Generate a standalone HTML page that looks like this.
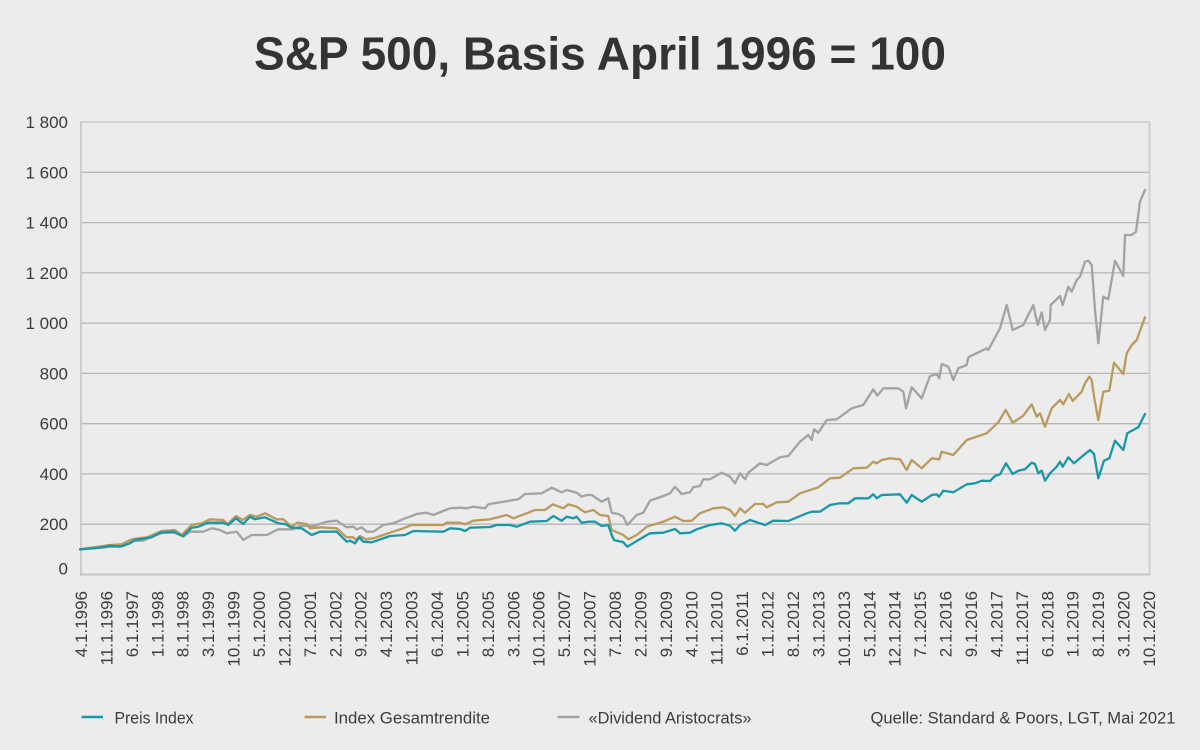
<!DOCTYPE html>
<html>
<head>
<meta charset="utf-8">
<style>
  html,body{margin:0;padding:0;background:#ececec;}
  svg{display:block;}
  text{font-family:"Liberation Sans",Arial,sans-serif;}
</style>
</head>
<body>
<svg width="1200" height="750" viewBox="0 0 1200 750" xmlns="http://www.w3.org/2000/svg">
  <rect x="0" y="0" width="1200" height="750" fill="#ececec"/>
  <!-- Title -->
  <text x="254" y="69.5" font-size="46" font-weight="bold" fill="#333333" textLength="692" lengthAdjust="spacingAndGlyphs">S&amp;P 500, Basis April 1996 = 100</text>

  <!-- gridlines -->
  <g stroke="#b6b6b6" stroke-width="1.3">
    <line x1="81" y1="524.2" x2="1149" y2="524.2"/>
    <line x1="81" y1="473.9" x2="1149" y2="473.9"/>
    <line x1="81" y1="423.7" x2="1149" y2="423.7"/>
    <line x1="81" y1="373.4" x2="1149" y2="373.4"/>
    <line x1="81" y1="323.1" x2="1149" y2="323.1"/>
    <line x1="81" y1="272.9" x2="1149" y2="272.9"/>
    <line x1="81" y1="222.6" x2="1149" y2="222.6"/>
    <line x1="81" y1="172.3" x2="1149" y2="172.3"/>
  </g>
  <!-- frame -->
  <line x1="81" y1="122" x2="1150" y2="122" stroke="#c8c8c8" stroke-width="1.6"/>
  <line x1="1149.5" y1="122" x2="1149.5" y2="575" stroke="#cfcfcf" stroke-width="2"/>
  <line x1="81" y1="121" x2="81" y2="576" stroke="#cccccc" stroke-width="2"/>
  <line x1="80" y1="574.5" x2="1150" y2="574.5" stroke="#c6c6c6" stroke-width="2"/>

  <!-- y labels -->
  <g font-size="17" fill="#3c3c3c" text-anchor="end">
    <text x="68" y="128">1 800</text>
    <text x="68" y="178.3">1 600</text>
    <text x="68" y="228.6">1 400</text>
    <text x="68" y="278.9">1 200</text>
    <text x="68" y="329.1">1 000</text>
    <text x="68" y="379.4">800</text>
    <text x="68" y="429.7">600</text>
    <text x="68" y="479.9">400</text>
    <text x="68" y="530.2">200</text>
    <text x="68" y="574.3">0</text>
  </g>

  <!-- x labels -->
  <g font-size="17" fill="#3c3c3c" text-anchor="end">
    <text transform="translate(87.0,591) rotate(-90)">4.1.1996</text>
    <text transform="translate(112.4,591) rotate(-90)">11.1.1996</text>
    <text transform="translate(137.9,591) rotate(-90)">6.1.1997</text>
    <text transform="translate(163.3,591) rotate(-90)">1.1.1998</text>
    <text transform="translate(188.7,591) rotate(-90)">8.1.1998</text>
    <text transform="translate(214.1,591) rotate(-90)">3.1.1999</text>
    <text transform="translate(239.6,591) rotate(-90)">10.1.1999</text>
    <text transform="translate(265.0,591) rotate(-90)">5.1.2000</text>
    <text transform="translate(290.4,591) rotate(-90)">12.1.2000</text>
    <text transform="translate(315.9,591) rotate(-90)">7.1.2001</text>
    <text transform="translate(341.3,591) rotate(-90)">2.1.2002</text>
    <text transform="translate(366.7,591) rotate(-90)">9.1.2002</text>
    <text transform="translate(392.1,591) rotate(-90)">4.1.2003</text>
    <text transform="translate(417.6,591) rotate(-90)">11.1.2003</text>
    <text transform="translate(443.0,591) rotate(-90)">6.1.2004</text>
    <text transform="translate(468.4,591) rotate(-90)">1.1.2005</text>
    <text transform="translate(493.9,591) rotate(-90)">8.1.2005</text>
    <text transform="translate(519.3,591) rotate(-90)">3.1.2006</text>
    <text transform="translate(544.7,591) rotate(-90)">10.1.2006</text>
    <text transform="translate(570.1,591) rotate(-90)">5.1.2007</text>
    <text transform="translate(595.6,591) rotate(-90)">12.1.2007</text>
    <text transform="translate(621.0,591) rotate(-90)">7.1.2008</text>
    <text transform="translate(646.4,591) rotate(-90)">2.1.2009</text>
    <text transform="translate(671.9,591) rotate(-90)">9.1.2009</text>
    <text transform="translate(697.3,591) rotate(-90)">4.1.2010</text>
    <text transform="translate(722.7,591) rotate(-90)">11.1.2010</text>
    <text transform="translate(748.1,591) rotate(-90)">6.1.2011</text>
    <text transform="translate(773.6,591) rotate(-90)">1.1.2012</text>
    <text transform="translate(799.0,591) rotate(-90)">8.1.2012</text>
    <text transform="translate(824.4,591) rotate(-90)">3.1.2013</text>
    <text transform="translate(849.9,591) rotate(-90)">10.1.2013</text>
    <text transform="translate(875.3,591) rotate(-90)">5.1.2014</text>
    <text transform="translate(900.7,591) rotate(-90)">12.1.2014</text>
    <text transform="translate(926.1,591) rotate(-90)">7.1.2015</text>
    <text transform="translate(951.6,591) rotate(-90)">2.1.2016</text>
    <text transform="translate(977.0,591) rotate(-90)">9.1.2016</text>
    <text transform="translate(1002.4,591) rotate(-90)">4.1.2017</text>
    <text transform="translate(1027.9,591) rotate(-90)">11.1.2017</text>
    <text transform="translate(1053.3,591) rotate(-90)">6.1.2018</text>
    <text transform="translate(1078.7,591) rotate(-90)">1.1.2019</text>
    <text transform="translate(1104.1,591) rotate(-90)">8.1.2019</text>
    <text transform="translate(1129.6,591) rotate(-90)">3.1.2020</text>
    <text transform="translate(1155.0,591) rotate(-90)">10.1.2020</text>
  </g>

  <!-- Series -->
  <g fill="none" stroke-width="2.3" stroke-linejoin="round" stroke-linecap="round">
    <!-- Dividend Aristocrats (gray) -->
    <polyline stroke="#a3a3a3" points="80,549.3 100,547.7 113.3,546.7 123.3,546 133.3,540.7 143.3,540.7 153.3,536 163.3,532.7 176.7,532.7 183.3,536.7 190,531.7 203.3,531.7 211.7,528.3 220,530 226.7,533.3 236.7,531.7 243.3,540 251.7,535 266.7,535 278.3,529.3 293.3,529.3 300,526 313.3,526 326.7,521.7 336.7,520.7 346.7,527.3 353.3,526.7 356.7,529.3 361.7,527.3 366.7,531.7 373.3,531.7 383.3,525 393.3,523.3 405,518.3 410,516.7 416.7,514 426.7,512.7 433.3,515 450,508.3 460,507.7 466.7,508.3 473.3,506.7 485,508.3 488.3,504.3 503.3,501.7 518.3,499.3 525,494 541.7,493.3 551.7,487.7 561.7,492.3 566.7,490 576.7,492.7 581.7,496.7 586.7,495 591.7,495 601.7,501.7 608.3,498.3 611.7,512.7 618.3,514 623.3,516.7 627.3,525 636.7,515 643.3,512.7 650,500.7 663.3,496 670,493.3 675,486.7 681.7,494 690,492.3 693.3,487.3 700,486 703.3,479.3 710,479.3 721.7,472.7 730,476.7 735,483.3 740,473.3 745,479.3 748.3,472.7 760,463.3 766.7,465 780,457.3 788.3,456 800,441.7 808.3,435 811.7,440 814,429.3 818.3,432.7 826.7,420 836.7,419.3 851.7,408.3 863.3,405 873.3,389.3 877.3,395.7 883.3,388.3 898.3,388.3 903.3,391.7 906,408.3 911.7,387.3 921.7,398.3 930,376 936.7,374 939.3,378.3 941.7,364 948.3,366.7 953.3,380 958.3,368.3 966.7,365 968.3,357.3 986.7,348.3 988.3,350 1000,328.3 1006.7,305 1012.7,330 1023.3,325 1033.3,305 1037.7,325 1041.7,312.3 1045,330 1050,320 1050.7,305 1060,296 1062.7,305 1068.3,286.7 1071.7,291.7 1076.7,280 1080,276.7 1085,261.7 1088.3,260.7 1091.7,265 1095,310 1098.3,343.3 1103.3,296.7 1108.3,299.3 1115,260.7 1123.3,276 1125,235 1131.7,235 1136,231.7 1140,201.7 1145,190"/>
    <!-- Index Gesamtrendite (gold) -->
    <polyline stroke="#b89b5d" points="80,549.3 110,545 121.7,544.3 131.7,539.3 146.7,537.3 161.7,531 175,530 181.7,535 191.7,525 201.7,523.3 210,519.3 223.3,520 227.7,524 236,516 242.7,520 250,515 256.7,516.7 265,513.3 276.7,519.3 283.3,519.3 291.7,526.7 297.3,522.7 306.7,524 310,528.3 320,527.3 336.7,528.3 346.7,537.3 353.3,537.3 356,540 360,536 366,539.3 373.3,538.3 390,532.7 403.3,528.3 411.7,524.8 443.3,525 446.7,522.7 460,522.7 465,524.3 473.3,520.7 490,519.3 506.7,515 513.3,518.3 526.7,513.3 535,510 545,510 552.7,504.3 563.3,508.3 568.3,504.3 576.7,506.7 585,512.3 593.3,510 600,515 608.3,516 611.7,530 623.3,535 628.3,539.3 636.7,535 646.7,526.7 663.3,521.7 675,516.7 683.3,521 691.7,520.7 700,513.3 713.3,508.3 723.3,507.3 730,510 735,516 740,508.3 745,512.7 755,504 763.3,504 766.7,507.3 776.7,502.3 788.3,501.7 800,493.3 818.3,487.3 830,478.3 840,477.7 853.3,468.3 866.7,467.7 873.3,461.7 876.7,463.3 881.7,460 890,458.3 900,459.3 906.7,470 911.7,460 921.7,468.3 931.7,458.3 939.3,459.3 941.7,451.7 953.3,455 966.7,440 986.7,433.3 998.3,422.3 1005.7,410 1012.7,422.7 1023.3,415.7 1031.7,404.3 1036.7,416.7 1040,413.3 1045,426.7 1051.7,408.3 1060,400 1063.3,404.3 1069,394 1072.7,401 1081.7,391.7 1085,383.3 1089.3,376.7 1091.7,380 1094.3,398.3 1098.3,420 1103.3,391.7 1109.3,390.7 1114,362.7 1123.3,374 1126.7,353.3 1131.7,345 1136.7,340 1145,317.3"/>
    <!-- Preis Index (teal) -->
    <polyline stroke="#1a97a7" points="80,549.3 100,547.7 110,545.7 120,546.7 130,543.3 135,540 151.7,537.3 160,532.7 173.3,531.7 180,535 183,536 191.7,527.7 198.3,526.7 208.3,522.7 223.3,522.7 228.3,525 236,518.3 243.3,524 250,516.7 255,519.3 265,517.3 278.3,523.3 285,524 291.7,527.7 301.7,528.3 311.7,535 320,531.7 336.7,531.7 346.7,541.7 350,540.7 355,543.3 359.3,537.3 363.3,541.7 371.7,542.3 390,536 405,535 413.3,531 443.3,531.7 450,528.3 460,529 465,531 470,527.7 490,527 496.7,525 510,525 516.7,526.7 530,521.7 546.7,521 553.3,516 561.7,520.7 566.7,516.7 573.3,518.3 576.7,516.7 581.7,522.7 588.3,521.7 595,521.7 601.7,526 608.3,525 611.7,535 614,540 623.3,542.3 627.3,546.7 636.7,541 650,533.3 663.3,532.7 675,529 680,533.3 690,532.7 696.7,529.3 710,525 721.7,523.3 730,525.7 735,530.7 740,525 750,520 765,525 773.3,520.7 788.3,521 806.7,513.3 811.7,511.7 820,511.7 830,505 840,503.3 848.3,503.3 855,498.3 868.3,498.3 873.3,494.3 876.7,498.3 881.7,495 900,494.3 906.7,502.7 911.7,495 921.7,501.7 931.7,495 936.7,494.3 939,496.7 943.3,490.7 953.3,492.3 966.7,484.3 975,483.3 981.7,480.7 990,481 995,476 1000,474.3 1006,463.3 1012.7,474 1018.3,470.7 1025,469.3 1031.7,462.7 1035,464 1038.3,473.3 1041.7,470.7 1045,480.7 1050,473.3 1056.7,466.7 1060,461.7 1062.7,466.7 1068.3,457.3 1074,463.3 1081.7,456.7 1090,450 1094,454 1098.3,478.3 1104,460.7 1109.3,458.3 1115,440.7 1123.3,450 1127.3,433.3 1138.3,427.3 1145,414"/>
  </g>

  <!-- Legend -->
  <g stroke-width="2.6">
    <line x1="81.5" y1="717" x2="103" y2="717" stroke="#1a97a7"/>
    <line x1="304.5" y1="717" x2="326" y2="717" stroke="#b89b5d"/>
    <line x1="557.5" y1="717" x2="579.5" y2="717" stroke="#a3a3a3"/>
  </g>
  <g font-size="17" fill="#3c3c3c">
    <text x="114.5" y="723.5" textLength="79" lengthAdjust="spacingAndGlyphs">Preis Index</text>
    <text x="334" y="723.5" textLength="156" lengthAdjust="spacingAndGlyphs">Index Gesamtrendite</text>
    <text x="588.5" y="723.5" textLength="163" lengthAdjust="spacingAndGlyphs">«Dividend Aristocrats»</text>
    <text x="870.5" y="723.5" textLength="305" lengthAdjust="spacingAndGlyphs">Quelle: Standard &amp; Poors, LGT, Mai 2021</text>
  </g>
</svg>
</body>
</html>
